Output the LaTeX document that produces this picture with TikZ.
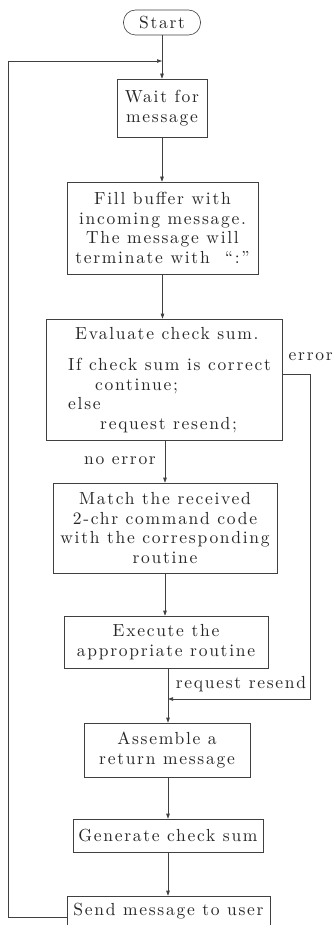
\documentclass[tikz,border=0pt]{standalone}
\usepackage{fontspec}
\newfontfamily\flowfont{lmroman10-regular}[Extension=.otf, Ligatures=TeX, LetterSpace=9.8]
\usetikzlibrary{arrows.meta}
\tikzset{
  txt/.style={font=\flowfont\fontsize{17.5}{19.5}\selectfont, text=black!85},
  box/.style={draw=black!75, line width=0.6pt, rectangle, inner sep=0pt, txt, align=center},
  flow/.style={draw=black!75, line width=0.6pt},
  arr/.style={flow, -{Triangle[length=5pt,width=3.5pt]}},
  lbl/.style={txt, inner sep=0pt}
}
\begin{document}
\begin{tikzpicture}[x=1pt,y=-1pt]
\useasboundingbox (0,0) rectangle (336,925);

% process steps
\node[box, rounded corners=12pt, minimum width=77pt, minimum height=25pt] (start) at (162,22.5) {Start};
\coordinate (top) at (162,61);
\node[box, minimum width=90pt, minimum height=58pt] (wait) at (162,108) {Wait for\\message};
\node[box, minimum width=191pt, minimum height=92pt] (fill) at (162.5,228) {Fill buffer with\\incoming message.\\The message will\\terminate with\ \ “:”};
\node[box, minimum width=236pt, minimum height=121pt] (eval) at (164,379.5) {};
\node[lbl, anchor=north west, align=left] (evaltxt) at (68,327) {\hspace*{7pt}Evaluate check sum.\\[12pt]If check sum is correct\\\hspace*{27pt}continue;\\else\\\hspace*{32pt}request resend;};
\node[box, minimum width=224pt, minimum height=90pt] (match) at (165,528) {Match the received\\2-chr command code\\with the corresponding\\routine};
\node[box, minimum width=204pt, minimum height=52pt] (exec) at (166,642) {Execute the\\appropriate routine};
\coordinate (merge) at (168,699);
\node[box, minimum width=166pt, minimum height=54pt] (asm) at (167,750) {Assemble a\\return message};
\node[box, minimum width=190pt, minimum height=33pt] (gen) at (168,835.5) {Generate check sum};
\node[box, minimum width=203pt, minimum height=30pt] (send) at (168.5,911) {Send message to user};

% main flow
\draw[flow] (start.south) -- (top);
\draw[arr] (top) -- (wait.north);
\draw[arr] (wait.south) -- (wait.south |- fill.north);
\draw[arr] (fill.south) -- (fill.south |- eval.north);
\draw[arr] (eval.south -| match.north) -- (match.north);
\draw[arr] (match.south) -- (match.south |- exec.north);
\draw[arr] (exec.south -| merge) -- (merge |- asm.north);
\draw[arr] (asm.south -| gen.north) -- (gen.north);
\draw[arr] (gen.south) -- (gen.south |- send.north);

% error branch back into the flow
\draw[arr] ([yshift=5.5pt]eval.east) -| (310,699) -- (merge);

% loop back to waiting
\draw[arr] ([yshift=-6pt]send.west) -| (8,61) -- (top);

% branch labels
\node[lbl, anchor=west] (errlbl) at (288.5,357) {error};
\node[lbl] (noerrlbl) at (120,461) {no error};
\node[lbl] (resendlbl) at (241,684) {request resend};
\end{tikzpicture}
\end{document}
